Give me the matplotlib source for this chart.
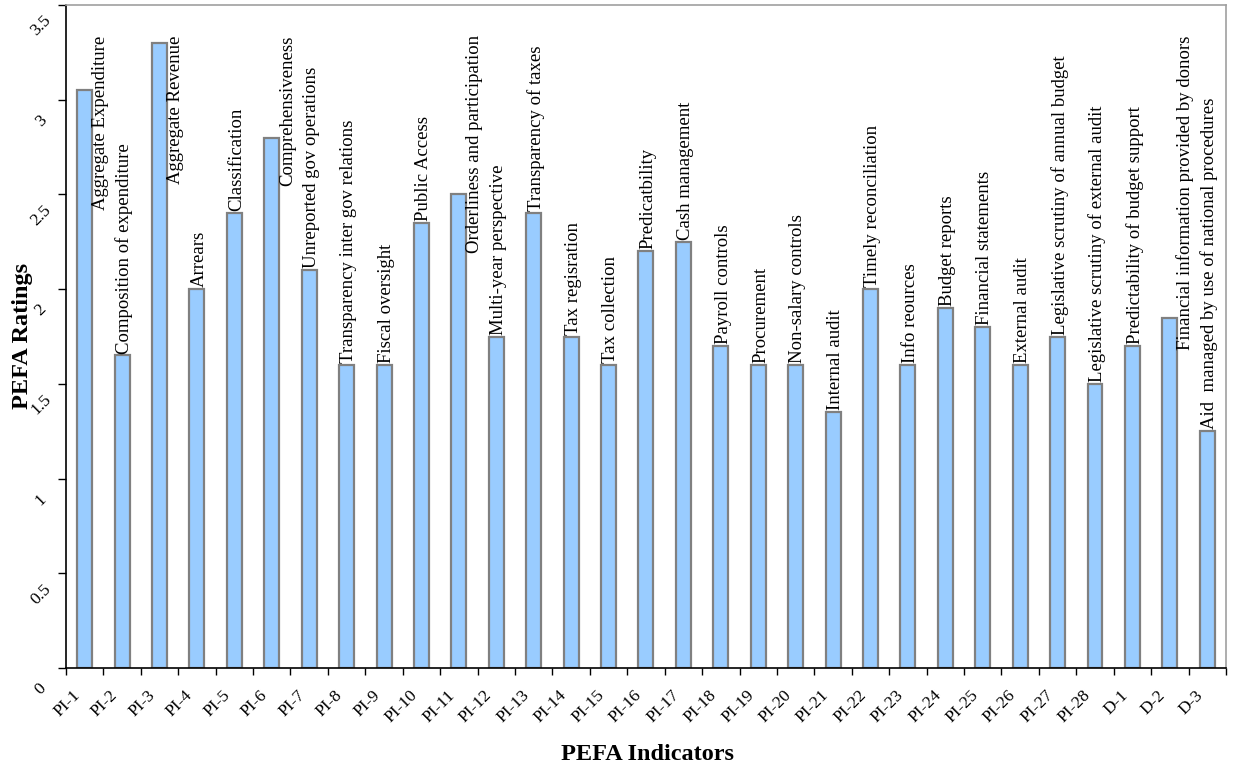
import matplotlib.pyplot as plt
import matplotlib.transforms as mtransforms
import numpy as np

# PEFA indicator codes, short descriptions and ratings
indicators = ['PI-1', 'PI-2', 'PI-3', 'PI-4', 'PI-5', 'PI-6', 'PI-7', 'PI-8',
              'PI-9', 'PI-10', 'PI-11', 'PI-12', 'PI-13', 'PI-14', 'PI-15',
              'PI-16', 'PI-17', 'PI-18', 'PI-19', 'PI-20', 'PI-21', 'PI-22',
              'PI-23', 'PI-24', 'PI-25', 'PI-26', 'PI-27', 'PI-28',
              'D-1', 'D-2', 'D-3']

descriptions = ['Aggregate Expenditure', 'Composition of expenditure',
                'Aggregate Revenue', 'Arrears', 'Classification',
                'Comprehensiveness', 'Unreported gov operations',
                'Transparency inter gov relations', 'Fiscal oversight',
                'Public Access', 'Orderliness and participation',
                'Multi-year perspective', 'Transparency of taxes',
                'Tax regisration', 'Tax collection', 'Predicatbility',
                'Cash management', 'Payroll controls', 'Procurement',
                'Non-salary controls', 'Internal audit',
                'Timely reconciliation', 'Info reources', 'Budget reports',
                'Financial statements', 'External audit',
                'Legislative scrutiny of annual budget',
                'Legislative scrutiny of external audit',
                'Predictability of budget support',
                'Financial information provided by donors',
                'Aid  managed by use of national procedures']

ratings = [3.05, 1.65, 3.3, 2.0, 2.4, 2.8, 2.1, 1.6, 1.6, 2.35, 2.5, 1.75,
           2.4, 1.75, 1.6, 2.2, 2.25, 1.7, 1.6, 1.6, 1.35, 2.0, 1.6, 1.9,
           1.8, 1.6, 1.75, 1.5, 1.7, 1.85, 1.25]

yticks = [0, 0.5, 1, 1.5, 2, 2.5, 3, 3.5]
ytick_labels = ['0', '0.5', '1', '1.5', '2', '2.5', '3', '3.5']

serif = 'Liberation Serif'

fig = plt.figure(figsize=(12.33, 7.67), dpi=100)
ax = fig.add_axes([0.0535, 0.129, 0.9408, 0.8645])

x = np.arange(len(indicators))
ax.bar(x, ratings, width=0.4, color='#99CCFF', edgecolor='#808080',
       linewidth=1.6, zorder=2)

ax.set_xlim(-0.5, len(indicators) - 0.5)
ax.set_ylim(0, 3.5)

# ticks sit on the category boundaries, labels under the bar centres
ax.set_xticks(np.arange(len(indicators) + 1) - 0.5)
ax.set_xticklabels([])
ax.tick_params(axis='x', direction='out', length=5, width=1, color='black')
for i, name in enumerate(indicators):
    ax.text(i - 0.33, -0.1, name, rotation=45, ha='right', va='top',
            rotation_mode='anchor', fontsize=12.5, family=serif,
            transform=ax.transData)

ax.set_yticks(yticks)
ax.set_yticklabels(ytick_labels, rotation=45, fontsize=12.5, family=serif,
                   ha='center', va='center')
ax.tick_params(axis='y', direction='out', length=6, width=1, pad=12,
               color='black')
shift = mtransforms.ScaledTranslation(0, -0.21, fig.dpi_scale_trans)
for lab in ax.get_yticklabels():
    lab.set_transform(lab.get_transform() + shift)

ax.spines['left'].set_color('black')
ax.spines['bottom'].set_color('black')
ax.spines['top'].set_color('#a0a0a0')
ax.spines['right'].set_color('#a0a0a0')
for s in ax.spines.values():
    s.set_linewidth(1.2)

fig.text(0.525, 0.003, 'PEFA Indicators', ha='center', va='bottom',
         fontsize=17.5, fontweight='bold', family=serif)
fig.text(0.018, 0.562, 'PEFA Ratings', ha='center', va='center',
         rotation=90, fontsize=17.5, fontweight='bold', family=serif)

# description labels centred over each bar; a label too tall for the
# plot area is pulled down and set beside its bar instead
labels = []
for i, (desc, val) in enumerate(zip(descriptions, ratings)):
    t = ax.text(i + 0.06, val + 0.01, desc, rotation=90, ha='center',
                va='bottom', fontsize=13.5, family=serif, zorder=3)
    labels.append(t)

fig.canvas.draw()
renderer = fig.canvas.get_renderer()
inv = ax.transData.inverted()
top_limit = 3.34
for i, (t, val) in enumerate(zip(labels, ratings)):
    bb = t.get_window_extent(renderer)
    top = inv.transform((bb.x0, bb.y1))[1]
    if top > top_limit:
        t.set_y(val + 0.01 - (top - top_limit))
        t.set_x(i + 0.42)

fig.savefig('out.png', dpi=100)
